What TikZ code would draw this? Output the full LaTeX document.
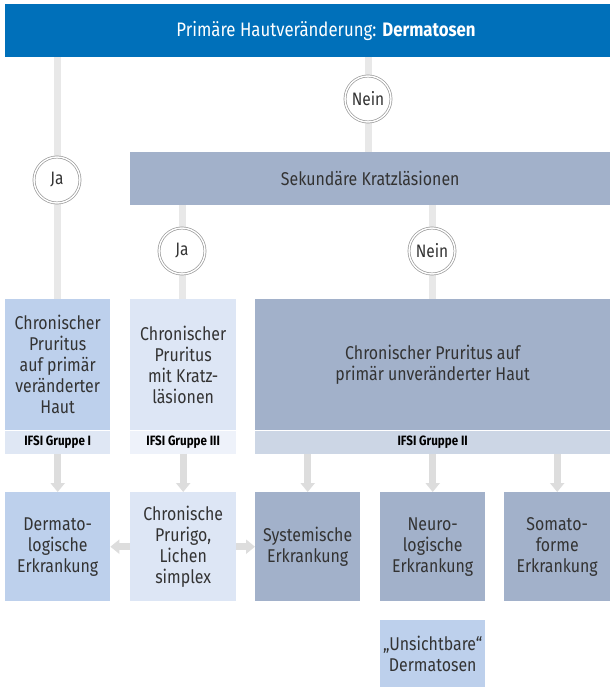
\documentclass[tikz,border=0pt]{standalone}
\usepackage{fontspec}
\setmainfont{Fira Sans}[FakeStretch=0.86]
\usetikzlibrary{arrows.meta,backgrounds}

\definecolor{hautblau}{HTML}{0070BA}
\definecolor{schiefer}{HTML}{A2B1CA}
\definecolor{schieferhell}{HTML}{CCD6E5}
\definecolor{mittelblau}{HTML}{BDD0EC}
\definecolor{mittelblauhell}{HTML}{DFE7F4}
\definecolor{hellblau}{HTML}{DDE6F5}
\definecolor{hellblauhell}{HTML}{EEF2FA}
\definecolor{liniengrau}{HTML}{E8E8E8}
\definecolor{pfeilgrau}{HTML}{DDDDDD}
\definecolor{textgrau}{HTML}{333333}

\begin{document}
\begin{tikzpicture}[x=1pt,y=-1pt,
    kasten/.style={anchor=north west, inner sep=0pt, align=center, text=textgrau,
        font=\fontsize{18.5}{21}\selectfont},
    gruppe/.style={anchor=north west, inner sep=0pt, minimum height=23pt, text=black,
        font=\fontsize{13.5}{15}\selectfont\bfseries},
    entscheid/.style={circle, fill=white, draw=gray!80, double=white, double distance=1.4pt,
        line width=0.7pt, minimum size=46pt, inner sep=0pt, text=textgrau,
        font=\fontsize{18}{20}\selectfont},
    linie/.style={draw=liniengrau, line width=7pt},
    pfeil/.style={draw=pfeilgrau, line width=7pt, -{Triangle[width=14pt,length=9pt]}}]

    \useasboundingbox (0,0) rectangle (610,687);

    % Kopfzeile
    \node[anchor=north west, fill=hautblau, minimum width=605pt, minimum height=53pt, inner sep=0pt] (kopf) at (5,4) {};
    \node[text=white, font=\fontsize{19.5}{22}\selectfont] (titel) at (326,31) {Primäre Hautveränderung: \textbf{Dermatosen}};

    % Entscheidungen
    \node[entscheid] (ja1) at (57,180) {Ja};
    \node[entscheid] (nein1) at (368,99) {Nein};
    \node[kasten, fill=schiefer, minimum width=480pt, minimum height=53pt] (kratz) at (130,152) {Sekundäre Kratzläsionen};
    \node[entscheid] (ja2) at (182,251) {Ja};
    \node[entscheid] (nein2) at (432,251) {Nein};

    % Gruppen
    \node[kasten, fill=mittelblau, minimum width=105pt, minimum height=131pt] (chron1) at (5,299)
        {Chronischer\\Pruritus\\auf primär\\veränderter\\Haut};
    \node[gruppe, fill=mittelblauhell, minimum width=105pt] (grp1) at (chron1.south west) {IFSI Gruppe I};
    \node[kasten, fill=hellblau, minimum width=106pt, minimum height=131pt] (chron3) at (130,299)
        {Chronischer\\Pruritus\\mit Kratz-\\läsionen};
    \node[gruppe, fill=hellblauhell, minimum width=106pt] (grp3) at (chron3.south west) {IFSI Gruppe III};
    \node[kasten, fill=schiefer, minimum width=355pt, minimum height=131pt] (chron2) at (255,299)
        {Chronischer Pruritus auf\\primär unveränderter Haut};
    \node[gruppe, fill=schieferhell, minimum width=355pt] (grp2) at (chron2.south west) {IFSI Gruppe II};

    % Erkrankungen
    \node[kasten, fill=mittelblau, minimum width=105pt, minimum height=109pt] (derm) at (5,492)
        {Dermato-\\logische\\Erkrankung};
    \node[kasten, fill=hellblau, minimum width=106pt, minimum height=109pt] (prurigo) at (130,492)
        {Chronische\\Prurigo,\\Lichen\\simplex};
    \node[kasten, fill=schiefer, minimum width=105pt, minimum height=109pt] (sys) at (255,492)
        {Systemische\\Erkrankung};
    \node[kasten, fill=schiefer, minimum width=105pt, minimum height=109pt] (neuro) at (380,492)
        {Neuro-\\logische\\Erkrankung};
    \node[kasten, fill=schiefer, minimum width=106pt, minimum height=109pt] (somato) at (504,492)
        {Somato-\\forme\\Erkrankung};
    \node[kasten, fill=mittelblau, minimum width=105pt, minimum height=67pt] (unsicht) at (380,620)
        {„Unsichtbare“\\Dermatosen};

    % Verbindungslinien
    \begin{pgfonlayer}{background}
        \draw[linie] (kopf.south -| ja1) -- (chron1.north -| ja1);
        \draw[linie] (kopf.south -| nein1) -- (kratz.north -| nein1);
        \draw[linie] (kratz.south -| ja2) -- (chron3.north -| ja2);
        \draw[linie] (kratz.south -| nein2) -- (chron2.north -| nein2);
    \end{pgfonlayer}

    % Pfeile
    \draw[pfeil] (grp1.south) -- (derm.north);
    \draw[pfeil] (grp3.south) -- (prurigo.north);
    \draw[pfeil] (grp2.south -| sys.north) -- (sys.north);
    \draw[pfeil] (grp2.south -| neuro.north) -- (neuro.north);
    \draw[pfeil] (grp2.south -| somato.north) -- (somato.north);
    \draw[pfeil] (prurigo.west) -- (derm.east);
    \draw[pfeil] (prurigo.east) -- (sys.west);
\end{tikzpicture}
\end{document}
